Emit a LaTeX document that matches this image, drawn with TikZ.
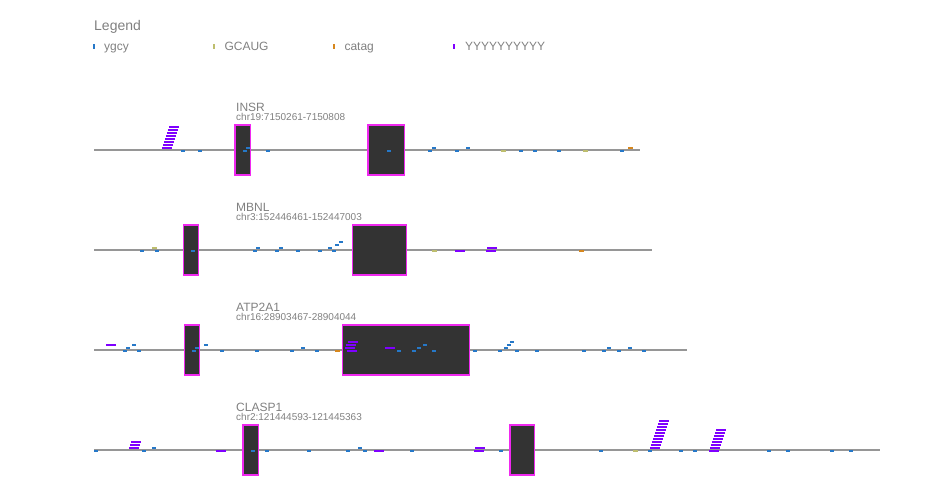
\documentclass[tikz,border=0pt]{standalone}
\usepackage{fontspec}
\setmainfont{Liberation Sans}
\usepackage{tikz}
\usetikzlibrary{positioning}
\definecolor{ygcy}{RGB}{38, 120, 200}
\definecolor{gcaug}{RGB}{190, 190, 110}
\definecolor{catag}{RGB}{214, 135, 30}
\definecolor{yyyy}{RGB}{127, 0, 255}
\definecolor{exonfill}{RGB}{51, 51, 51}
\definecolor{exonline}{RGB}{240, 40, 240}
\definecolor{labelgray}{RGB}{128, 128, 128}
\definecolor{intron}{RGB}{150, 150, 150}
\tikzset{
  exon/.style={fill=exonfill, draw=exonline, line width=1.2pt},
  intronline/.style={draw=intron, line width=1.5pt},
  genename/.style={anchor=base west, inner sep=0pt, text=labelgray, font=\fontsize{12}{14}\selectfont},
  generange/.style={anchor=base west, inner sep=0pt, text=labelgray, font=\fontsize{10}{12}\selectfont},
  legendtext/.style={anchor=base west, inner sep=0pt, text=labelgray, font=\fontsize{12}{14}\selectfont}
}
% one motif hit: colour, centre x, width, stack level
\newcommand{\motifhit}[4]{\fill[#1] ({#2-#3/2},{1.8-3*#4}) rectangle ({#2+#3/2},{-0.2-3*#4});}

\begin{document}
\begin{tikzpicture}[x=1pt, y=-1pt]
            \useasboundingbox (0,0) rectangle (944,500);
            % legend
            \node[legendtext, font=\fontsize{14}{16}\selectfont] (legendtitle) at (94,31) {Legend};
            \fill[ygcy]  (93.3,43.8)  rectangle (95.3,48.8);
            \node[legendtext] (legygcy)  at (104,51) {ygcy};
            \fill[gcaug] (213.3,43.8) rectangle (215.3,48.8);
            \node[legendtext] (leggcaug) at (224.3,51) {GCAUG};
            \fill[catag] (333.3,43.8) rectangle (335.3,48.8);
            \node[legendtext] (legcatag) at (344.3,51) {catag};
            \fill[yyyy]  (453.3,43.8) rectangle (455.3,48.8);
            \node[legendtext] (legyyyy)  at (465,51) {YYYYYYYYYY};

            % INSR
            \begin{scope}[shift={(0,150)}]
            \node[genename]  (insrname)  at (236,-39) {INSR};
            \node[generange] (insrrange) at (236,-29.5) {chr19:7150261-7150808};
            \draw[intronline] (94,0) -- (640,0);
            \filldraw[exon] (235.0,-25) rectangle (250.7,25);
            \filldraw[exon] (368.0,-25) rectangle (404.3,25);
            \foreach \x/\l in {183.3/0, 200/0, 245.3/0, 248/1, 268/0, 389.3/0, 430.3/0, 434.3/1, 457.3/0,
                               468.3/1, 521.3/0, 535.3/0, 559.3/0, 622.3/0}
              {\motifhit{ygcy}{\x}{4}{\l}}
            \foreach \x/\l in {503.3/0, 585.3/0} {\motifhit{gcaug}{\x}{4.7}{\l}}
            \motifhit{catag}{630.3}{5}{1}
            \foreach \l in {1,...,8} {\motifhit{yyyy}{167.3+0.95*(\l-1)}{10}{\l}}
            \end{scope}

            % MBNL
            \begin{scope}[shift={(0,250)}]
            \node[genename]  (mbnlname)  at (236,-39) {MBNL};
            \node[generange] (mbnlrange) at (236,-29.5) {chr3:152446461-152447003};
            \draw[intronline] (94,0) -- (652,0);
            \filldraw[exon] (183.3,-25) rectangle (198.3,25);
            \filldraw[exon] (352.3,-25) rectangle (406.7,25);
            \foreach \x/\l in {142/0, 157/0, 193.3/0, 255/0, 258.3/1, 277/0, 281/1, 298/0, 320/0, 330/1,
                               334/0, 337/2, 341/3}
              {\motifhit{ygcy}{\x}{4}{\l}}
            \foreach \x/\l in {154.3/1, 434.3/0} {\motifhit{gcaug}{\x}{4.7}{\l}}
            \foreach \x/\l in {460/0, 491/0, 492/1} {\motifhit{yyyy}{\x}{10}{\l}}
            \motifhit{catag}{581.3}{5}{0}
            \end{scope}

            % ATP2A1
            \begin{scope}[shift={(0,350)}]
            \node[genename]  (atpname)  at (236,-39) {ATP2A1};
            \node[generange] (atprange) at (236,-29.5) {chr16:28903467-28904044};
            \draw[intronline] (94,0) -- (687.3,0);
            \filldraw[exon] (184.3,-25) rectangle (199.3,25);
            \filldraw[exon] (342.3,-25) rectangle (469.3,25);
            \foreach \x/\l in {125/0, 128/1, 134/2, 139/0, 194/0, 197/1, 206/2, 222/0, 257/0, 292/0,
                               303/1, 317/0, 399/0, 414/0, 419/1, 425/2, 434/0, 475/0, 500/0, 506/1,
                               509/2, 512/3, 517/0, 537/0, 584/0, 604/0, 609/1, 619/0, 630/1, 644/0}
              {\motifhit{ygcy}{\x}{4}{\l}}
            \motifhit{catag}{337.3}{5}{0}
            \foreach \x/\l in {111/2, 352.3/0, 350.3/1, 351.3/2, 353.3/3, 390.3/1} {\motifhit{yyyy}{\x}{10}{\l}}
            \end{scope}

            % CLASP1
            \begin{scope}[shift={(0,450)}]
            \node[genename]  (claspname)  at (236,-39) {CLASP1};
            \node[generange] (clasprange) at (236,-29.5) {chr2:121444593-121445363};
            \draw[intronline] (94,0) -- (880,0);
            \filldraw[exon] (243.0,-25) rectangle (258.7,25);
            \filldraw[exon] (510.0,-25) rectangle (534.7,25);
            \foreach \x/\l in {96/0, 144.3/0, 154.3/1, 253.3/0, 267.3/0, 309.3/0, 348/0, 360.3/1, 365.3/0,
                               412/0, 501.3/0, 601.3/0, 650.3/0, 681.3/0, 695.3/0, 769.3/0, 788.3/0,
                               832.3/0, 851.3/0}
              {\motifhit{ygcy}{\x}{4}{\l}}
            \motifhit{gcaug}{635.3}{4.7}{0}
            \foreach \x/\l in {135.7/3, 134.7/2, 133.7/1, 221/0, 379/0, 479.3/0, 480.3/1, 714.3/0}
              {\motifhit{yyyy}{\x}{10}{\l}}
            \foreach \l in {1,...,10} {\motifhit{yyyy}{655.3+(\l-1)}{10}{\l}}
            \foreach \l in {1,...,7}  {\motifhit{yyyy}{715.3+(\l-1)}{10}{\l}}
            \end{scope}
\end{tikzpicture}
\end{document}
